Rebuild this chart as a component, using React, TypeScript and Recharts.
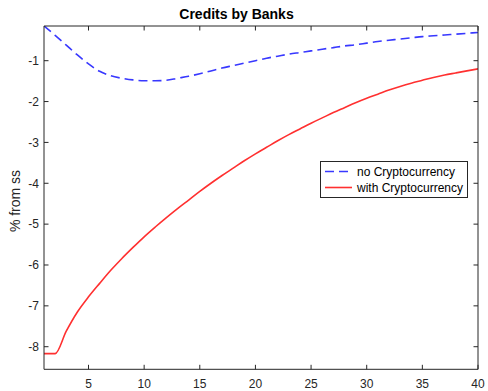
import React from 'react';
import { LineChart, Line, XAxis, YAxis } from 'recharts';

const periods = [1, 2, 3, 4, 5, 6, 7, 8, 9, 10, 11, 12, 13, 14, 15, 16, 17, 18, 19, 20, 21, 22, 23, 24, 25, 26, 27, 28, 29, 30, 31, 32, 33, 34, 35, 36, 37, 38, 39, 40];
const noCrypto = [-0.15, -0.38, -0.62, -0.86, -1.08, -1.26, -1.37, -1.43, -1.47, -1.49, -1.49, -1.48, -1.43, -1.38, -1.32, -1.25, -1.18, -1.12, -1.06, -1.0, -0.94, -0.89, -0.84, -0.8, -0.76, -0.72, -0.68, -0.64, -0.61, -0.57, -0.53, -0.5, -0.47, -0.44, -0.41, -0.39, -0.37, -0.35, -0.33, -0.31];
const withCrypto = [-8.17, -8.17, -7.62, -7.15, -6.78, -6.45, -6.13, -5.84, -5.57, -5.31, -5.07, -4.84, -4.62, -4.41, -4.2, -4.0, -3.81, -3.63, -3.45, -3.28, -3.12, -2.96, -2.81, -2.67, -2.53, -2.4, -2.27, -2.15, -2.03, -1.92, -1.82, -1.72, -1.63, -1.55, -1.48, -1.41, -1.35, -1.3, -1.25, -1.2];
const xTicks = [5, 10, 15, 20, 25, 30, 35, 40];
const yTicks = [-8, -7, -6, -5, -4, -3, -2, -1];
const xDomain = [1, 40];
const yDomain = [-8.553, -0.151];

const seriesNames = ['no Cryptocurrency', 'with Cryptocurrency'];

const data = periods.map((t, i) => ({ t, no: noCrypto[i], with: withCrypto[i] }));

const FONT = '"Liberation Sans", Arial, Helvetica, sans-serif';
const AXIS = '#262626';
const BLUE = '#3838ff';
const RED = '#ff3030';
const TICK = 4.5;

const BottomTick = (props: any) => {
  const { x, y, payload } = props;
  return (
    <g>
      <path d={`M${x},${y}V${y - TICK}`} stroke={AXIS} strokeWidth={1} fill="none" />
      <text x={x} y={y + 19} textAnchor="middle" fontFamily={FONT} fontSize={12} fill={AXIS}>
        {payload.value}
      </text>
    </g>
  );
};

const TopTick = (props: any) => {
  const { x, y } = props;
  return <path d={`M${x},${y}V${y + TICK}`} stroke={AXIS} strokeWidth={1} fill="none" />;
};

const LeftTick = (props: any) => {
  const { x, y, payload } = props;
  return (
    <g>
      <path d={`M${x},${y}H${x + TICK}`} stroke={AXIS} strokeWidth={1} fill="none" />
      <text x={x - 5} y={y + 4.3} textAnchor="end" fontFamily={FONT} fontSize={12} fill={AXIS}>
        {payload.value}
      </text>
    </g>
  );
};

const RightTick = (props: any) => {
  const { x, y } = props;
  return <path d={`M${x},${y}H${x - TICK}`} stroke={AXIS} strokeWidth={1} fill="none" />;
};

export default function App() {
  return (
    <div style={{ position: 'absolute', left: 0, top: 0, width: 488, height: 391, background: '#fff', fontFamily: FONT }}>
      <LineChart width={488} height={391} data={data} margin={{ top: 25, right: 9, bottom: 0, left: 0 }}>
        <XAxis xAxisId="bottom" dataKey="t" type="number" domain={xDomain} ticks={xTicks} height={21.7} tickSize={0} tickMargin={0} tickLine={false} axisLine={{ stroke: AXIS }} tick={<BottomTick />} allowDataOverflow />
        <XAxis xAxisId="top" orientation="top" dataKey="t" type="number" domain={xDomain} ticks={xTicks} height={1} tickSize={0} tickMargin={0} tickLine={false} axisLine={{ stroke: AXIS }} tick={<TopTick />} allowDataOverflow />
        <YAxis yAxisId="left" type="number" domain={yDomain} ticks={yTicks} width={44} tickSize={0} tickMargin={0} tickLine={false} axisLine={{ stroke: AXIS }} tick={<LeftTick />} allowDataOverflow />
        <YAxis yAxisId="right" orientation="right" type="number" domain={yDomain} ticks={yTicks} width={1} tickSize={0} tickMargin={0} tickLine={false} axisLine={{ stroke: AXIS }} tick={<RightTick />} allowDataOverflow />
        <Line xAxisId="bottom" yAxisId="left" type="monotone" dataKey="no" stroke={BLUE} strokeWidth={1.6} strokeDasharray="9 5" dot={false} isAnimationActive={false} />
        <Line xAxisId="bottom" yAxisId="left" type="monotone" dataKey="with" stroke={RED} strokeWidth={1.6} dot={false} isAnimationActive={false} />
      </LineChart>
      <svg width={488} height={391} style={{ position: 'absolute', left: 0, top: 0, pointerEvents: 'none' }}>
        <text x={236.5} y={19} textAnchor="middle" fontFamily={FONT} fontWeight="bold" fontSize={14} fill="#000">
          Credits by Banks
        </text>
        <text x={20} y={201} textAnchor="middle" fontFamily={FONT} fontSize={14} fill={AXIS} transform="rotate(-90 20 201)">
          % from ss
        </text>
        <rect x={320.5} y={161.5} width={147} height={36} fill="#fff" stroke={AXIS} strokeWidth={1} />
        <line x1={325} y1={171.5} x2={352} y2={171.5} stroke={BLUE} strokeWidth={1.6} strokeDasharray="9 5" />
        <text x={357} y={176} fontFamily={FONT} fontSize={12} fill="#000">{seriesNames[0]}</text>
        <line x1={325} y1={187.5} x2={352} y2={187.5} stroke={RED} strokeWidth={1.6} />
        <text x={357} y={192} fontFamily={FONT} fontSize={12} fill="#000">{seriesNames[1]}</text>
      </svg>
    </div>
  );
}
